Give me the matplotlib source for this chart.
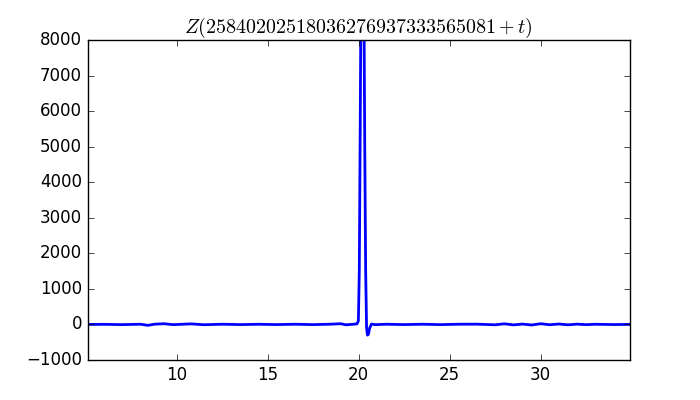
import matplotlib
matplotlib.use("Agg")
import matplotlib.pyplot as plt

t = [5.09, 6.0, 7.0, 8.0, 8.4, 8.8, 9.3, 9.8, 10.5, 10.8, 11.5, 12.5, 13.5,
     14.5, 15.5, 16.5, 17.5, 18.5, 19.0, 19.3, 19.7, 19.9, 19.98, 20.03,
     20.08, 20.13, 20.18, 20.23, 20.28, 20.33, 20.38, 20.43, 20.48, 20.53,
     20.6, 20.7, 20.9, 21.5, 22.5, 23.5, 24.5, 25.5, 26.5, 27.5, 28.0,
     28.5, 29.0, 29.5, 30.0, 30.5, 31.0, 31.5, 32.0, 32.5, 33.0, 34.0, 34.91]
z = [0, 3, -5, 6, -25, 8, 20, -6, 10, 15, -8, 6, -4, 5, -4, 6, -5,
     8, 20, -10, 6, 15, 100, 1500, 5500, 10000, 13000, 12500, 9500, 5000,
     1500, -100, -300, -280, -100, 10, -6, 6, -4, 6, -5, 6, 8, -10, 18,
     -12, 10, -15, 20, -8, 12, -10, 8, -6, 5, -3, 0]

title = r"$Z(25840202518036276937333565081+t)$"

plt.style.use("classic")
fig, ax = plt.subplots(figsize=(7, 4), dpi=100)
fig.patch.set_facecolor("white")

ax.plot(t, z, color="blue", linewidth=2)
ax.set_xlim(5.09, 34.91)
ax.set_ylim(-1000, 8000)
ax.set_title(title)

fig.savefig("out.png", facecolor="white")
